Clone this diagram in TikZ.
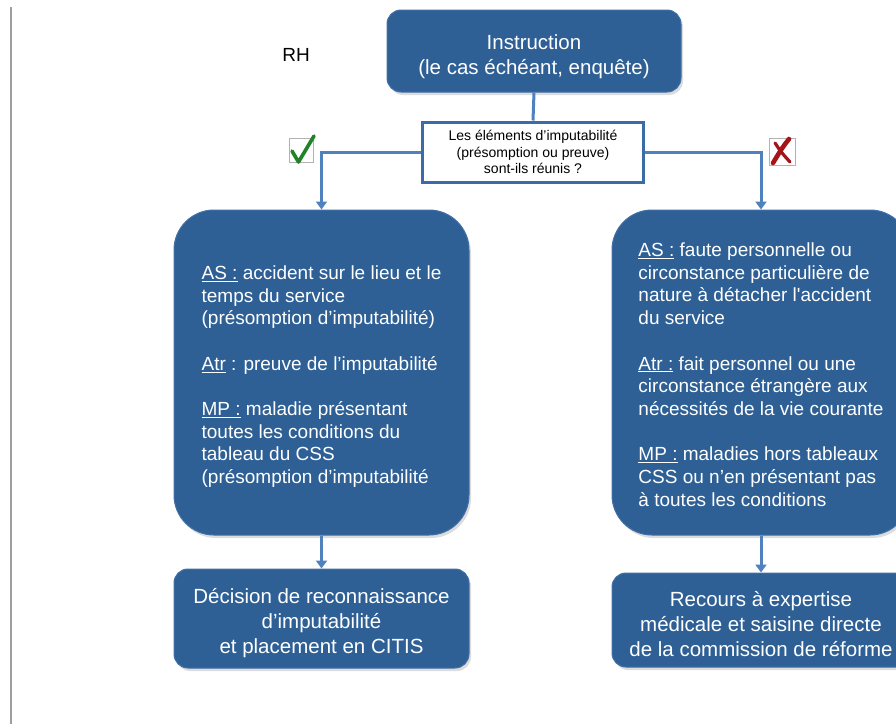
\documentclass[tikz,border=0pt]{standalone}
\usepackage{fontspec}
\setmainfont{Liberation Sans}
\usetikzlibrary{arrows.meta,shadows}
\definecolor{boxblue}{RGB}{46,96,150}
\definecolor{boxedge}{RGB}{66,112,166}
\definecolor{linkblue}{RGB}{79,129,189}
\definecolor{qedge}{RGB}{60,108,168}
\definecolor{checkgreen}{RGB}{34,130,40}
\definecolor{crossred}{RGB}{165,20,25}
\newcommand{\lift}[1]{\rule{0pt}{#1pt}}
\begin{document}
\begin{tikzpicture}[x=1pt,y=-1pt,
  bluebox/.style={draw=boxedge, line width=1pt, fill=boxblue, text=white,
    inner sep=0pt, drop shadow={shadow xshift=2pt, shadow yshift=-3pt, opacity=0.28}},
  titlebox/.style={bluebox, align=center, font=\fontsize{20.5}{25}\selectfont, rounded corners=14pt},
  bigbox/.style={bluebox, align=left, font=\fontsize{19}{22.7}\selectfont, rounded corners=40pt},
  qbox/.style={draw=qedge, line width=3pt, fill=white, align=center, inner sep=0pt,
    font=\fontsize{14}{16.8}\selectfont},
  link/.style={draw=linkblue, line width=3pt},
  arrowlink/.style={link, -{Triangle[length=8pt,width=11pt]}},
  iconframe/.style={draw=black!30, line width=1pt, fill=white}
]
\useasboundingbox (0,0) rectangle (896,724);

% left grey rule
\draw[line width=2.5pt, draw=black!38] (11,7) -- (11,724);

% RH label
\node[font=\fontsize{19}{22}\selectfont] (rh) at (296,55) {RH};

% nodes
\node[titlebox, minimum width=294, minimum height=82] (instr) at (534,51)
  {\lift{27}Instruction\\(le cas échéant, enquête)};

\node[qbox, minimum width=221, minimum height=60] (q) at (533,152)
  {Les éléments d’imputabilité\\(présomption ou preuve)\\sont-ils réunis ?};

\node[bigbox, minimum width=295, minimum height=325] (lbig) at (321.5,372.5)
  {\lift{22}\underline{AS :} accident sur le lieu et le\\
   temps du service\\
   (présomption d’imputabilité)\\[22.7pt]
   \underline{Atr} : preuve de l’imputabilité\\[22.7pt]
   \underline{MP :} maladie présentant\\
   toutes les conditions du\\
   tableau du CSS\\
   (présomption d’imputabilité};

\node[bigbox, minimum width=298, minimum height=325] (rbig) at (761,372.5)
  {\lift{18}\underline{AS :} faute personnelle ou\\
   circonstance particulière de\\
   nature à détacher l\textquotesingle accident\\
   du service\\[22.7pt]
   \underline{Atr :} fait personnel ou une\\
   circonstance étrangère aux\\
   nécessités de la vie courante\\[22.7pt]
   \underline{MP :} maladies hors tableaux\\
   CSS ou n’en présentant pas\\
   à toutes les conditions};

\node[titlebox, minimum width=295, minimum height=99] (ldec) at (321.5,618.5)
  {\lift{24}Décision de reconnaissance\\d’imputabilité\\et placement en CITIS};

\node[titlebox, minimum width=298, minimum height=94] (rdec) at (761,620)
  {\lift{24}Recours à expertise\\médicale et saisine directe\\de la commission de réforme};

% connectors
\draw[link] (instr.south) -- (q.north);
\draw[arrowlink] (q.west) -| (lbig.north);
\draw[arrowlink] (q.east) -| (rbig.north);
\draw[arrowlink] (lbig.south) -- (ldec.north);
\draw[arrowlink] (rbig.south) -- (rdec.north);

% check icon
\draw[iconframe] (289,138) rectangle (313,162);
\draw[draw=checkgreen, line width=3.6pt, line cap=round, line join=round]
  (292,151) -- (298.5,162) -- (314,136);

% cross icon
\draw[iconframe] (769,138) rectangle (795,165);
\draw[draw=crossred, line width=4.6pt, line cap=round]
  (789,139) .. controls (782,148) .. (773,163);
\draw[draw=crossred, line width=3.2pt, line cap=round]
  (775,143) .. controls (781,152) .. (790,162);
\end{tikzpicture}
\end{document}
